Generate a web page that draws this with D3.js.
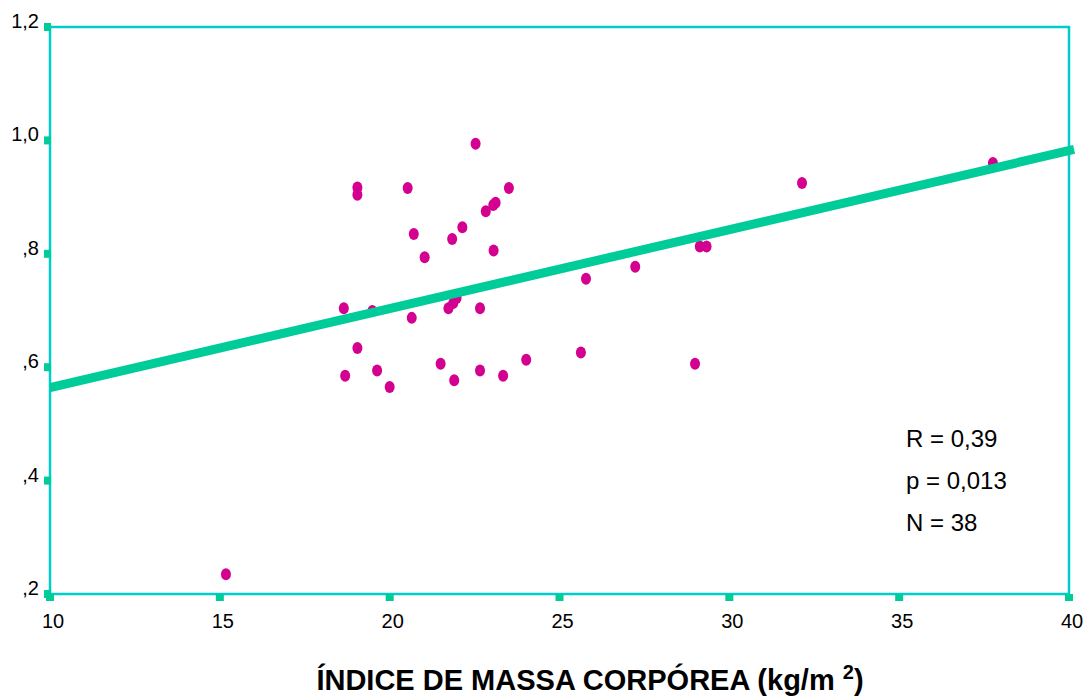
<!DOCTYPE html>
<html lang="pt">
<head>
    <meta charset="UTF-8">
    <title>IMC scatter</title>
    <script src="https://cdnjs.cloudflare.com/ajax/libs/d3/7.8.5/d3.min.js"></script>
    <style>
        * { margin: 0; padding: 0; box-sizing: border-box; }
        body { background: #fff; font-family: 'Liberation Sans', Arial, sans-serif; }
        #chart { width: 1088px; height: 698px; }
    </style>
</head>
<body>
    <div id="chart"></div>

    <script>
        // IMC (kg/m2) for each subject
        const imc = [
            22.53, 19.05, 19.05, 20.53, 23.51, 23.05, 23.12, 22.83, 22.14, 20.71,
            21.84, 23.06, 21.03, 18.65, 19.49, 20.65, 21.73, 21.87, 21.97, 22.66,
            19.05, 18.69, 19.63, 20.00, 21.50, 21.90, 22.66, 23.34, 24.02, 25.78,
            27.23, 29.13, 29.33, 25.63, 28.99, 32.14, 37.76, 15.18
        ];
        // y values
        const valores = [
            0.994, 0.917, 0.904, 0.916, 0.916, 0.886, 0.890, 0.875, 0.847, 0.835,
            0.826, 0.806, 0.794, 0.704, 0.699, 0.687, 0.704, 0.713, 0.722, 0.704,
            0.634, 0.585, 0.594, 0.565, 0.606, 0.577, 0.594, 0.585, 0.613, 0.756,
            0.777, 0.813, 0.813, 0.626, 0.606, 0.925, 0.960, 0.235
        ];
        // fitted line ends
        const fitX = [10, 40.15];
        const fitY = [0.564, 0.984];

        const xTicks = [10, 15, 20, 25, 30, 35, 40];
        const yTicks = [0.2, 0.4, 0.6, 0.8, 1.0, 1.2];
        const yTickLabels = [',2', ',4', ',6', ',8', '1,0', '1,2'];
        const stats = ['R = 0,39', 'p = 0,013', 'N = 38'];

        const width = 1088, height = 698;
        const plotLeft = 50, plotRight = 1069, plotTop = 27, plotBottom = 594;

        const svg = d3.select('#chart').append('svg')
            .attr('width', width)
            .attr('height', height);

        const x = d3.scaleLinear().domain([10, 40]).range([plotLeft, plotRight]);
        const y = d3.scaleLinear().domain([0.2, 1.2]).range([plotBottom, plotTop]);

        // frame
        svg.append('rect')
            .attr('x', plotLeft).attr('y', plotTop)
            .attr('width', plotRight - plotLeft).attr('height', plotBottom - plotTop)
            .attr('fill', 'none')
            .attr('stroke', '#00cccc')
            .attr('stroke-width', 2.5);

        // points
        const pts = imc.map((v, i) => ({ x: v, y: valores[i] }));
        svg.append('g').selectAll('ellipse')
            .data(pts)
            .enter()
            .append('ellipse')
            .attr('cx', d => x(d.x))
            .attr('cy', d => y(d.y))
            .attr('rx', 5)
            .attr('ry', 6)
            .attr('fill', '#d4008f');

        // regression line
        svg.append('line')
            .attr('x1', x(fitX[0])).attr('y1', y(fitY[0]))
            .attr('x2', x(fitX[1])).attr('y2', y(fitY[1]))
            .attr('stroke', '#00cc99')
            .attr('stroke-width', 9);

        // y ticks
        svg.append('g').selectAll('rect')
            .data(yTicks)
            .enter()
            .append('rect')
            .attr('x', plotLeft - 6)
            .attr('y', d => y(d) - 4)
            .attr('width', 7)
            .attr('height', 8)
            .attr('fill', '#00cc99');

        svg.append('g').selectAll('text')
            .data(yTicks)
            .enter()
            .append('text')
            .attr('x', plotLeft - 11)
            .attr('y', d => y(d) + 1)
            .attr('text-anchor', 'end')
            .attr('font-size', 20)
            .attr('fill', '#000')
            .text((d, i) => yTickLabels[i]);

        // x ticks
        svg.append('g').selectAll('rect')
            .data(xTicks)
            .enter()
            .append('rect')
            .attr('x', d => x(d) - 4)
            .attr('y', plotBottom)
            .attr('width', 8)
            .attr('height', 7)
            .attr('fill', '#00cc99');

        svg.append('g').selectAll('text')
            .data(xTicks)
            .enter()
            .append('text')
            .attr('x', d => x(d) + 3)
            .attr('y', plotBottom + 34)
            .attr('text-anchor', 'middle')
            .attr('font-size', 20)
            .attr('fill', '#000')
            .text(d => d);

        // stats box
        svg.append('g').selectAll('text')
            .data(stats)
            .enter()
            .append('text')
            .attr('x', 906)
            .attr('y', (d, i) => 447 + i * 42)
            .attr('font-size', 24)
            .attr('fill', '#000')
            .text(d => d);

        // axis title
        const title = svg.append('text')
            .attr('x', 590)
            .attr('y', 690)
            .attr('text-anchor', 'middle')
            .attr('font-size', 29)
            .attr('font-weight', 'bold')
            .attr('fill', '#000');
        title.append('tspan').text('ÍNDICE DE MASSA CORPÓREA (kg/m ');
        title.append('tspan').attr('font-size', 20).attr('dy', -11).text('2');
        title.append('tspan').attr('dy', 11).text(')');
    </script>
</body>
</html>
